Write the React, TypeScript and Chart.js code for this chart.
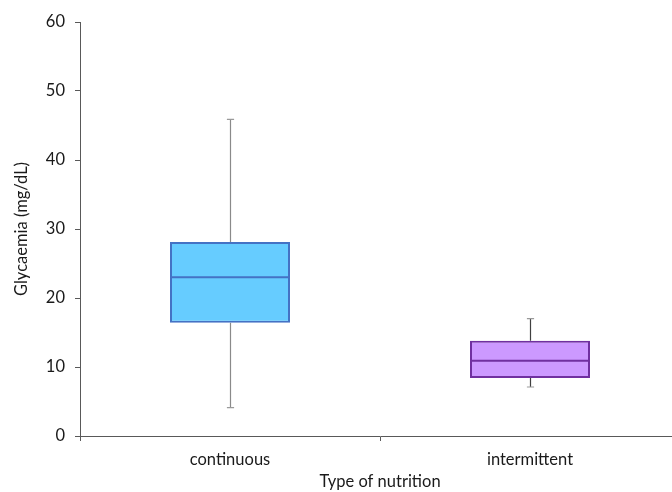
import React, { useEffect, useRef } from "react";
import { Chart, registerables } from "chart.js";

Chart.register(...registerables);

const categories = ["continuous", "intermittent"];
const whiskerLow = [4.1, 7.1];
const q1 = [16.4, 8.4];
const median = [23.0, 10.9];
const q3 = [28.1, 13.8];
const whiskerHigh = [45.9, 17.0];

const fillColors = ["#66CCFF", "#CC99FF"];
const borderColors = ["#4472C4", "#7030A0"];
const whiskerColors = ["#8a8a8a", "#404040"];

const FONT = "Lato, 'Open Sans', sans-serif";
const FS = 16.5;

const boxPlugin = {
  id: "boxExtras",
  beforeDatasetsDraw(chart: any) {
    const { ctx, scales } = chart;
    const xs = scales.x;
    const ys = scales.y;
    const catW = xs.width / categories.length;
    const capHalf = catW * 0.012;
    ctx.save();
    categories.forEach((_, i) => {
      const x = Math.round(xs.getPixelForValue(i)) + 0.5;
      const yLo = ys.getPixelForValue(whiskerLow[i]);
      const yHi = ys.getPixelForValue(whiskerHigh[i]);
      const yQ1 = ys.getPixelForValue(q1[i]);
      const yQ3 = ys.getPixelForValue(q3[i]);
      ctx.strokeStyle = whiskerColors[i];
      ctx.lineWidth = 1.2;
      ctx.beginPath();
      ctx.moveTo(x, yHi);
      ctx.lineTo(x, yQ3);
      ctx.moveTo(x, yQ1);
      ctx.lineTo(x, yLo);
      ctx.stroke();
      ctx.strokeStyle = "#9a9a9a";
      ctx.beginPath();
      ctx.moveTo(x - capHalf, yHi);
      ctx.lineTo(x + capHalf, yHi);
      ctx.moveTo(x - capHalf, yLo);
      ctx.lineTo(x + capHalf, yLo);
      ctx.stroke();
    });
    ctx.restore();
  },
  afterDatasetsDraw(chart: any) {
    const { ctx, scales } = chart;
    const xs = scales.x;
    const ys = scales.y;
    const meta = chart.getDatasetMeta(0);
    ctx.save();
    categories.forEach((_, i) => {
      const bar = meta.data[i] as any;
      const half = bar.width / 2;
      const x = xs.getPixelForValue(i);
      const y = ys.getPixelForValue(median[i]);
      ctx.strokeStyle = borderColors[i];
      ctx.lineWidth = 2;
      ctx.beginPath();
      ctx.moveTo(x - half, y);
      ctx.lineTo(x + half, y);
      ctx.stroke();
    });
    ctx.restore();
  },
};

export default function App() {
  const ref = useRef<HTMLCanvasElement>(null);
  useEffect(() => {
    if (!ref.current) return;
    const chart = new Chart(ref.current, {
      type: "bar",
      data: {
        labels: categories,
        datasets: [
          {
            data: categories.map((_, i) => [q1[i], q3[i]]) as any,
            backgroundColor: fillColors,
            borderColor: borderColors,
            borderWidth: 2,
            borderSkipped: false,
            categoryPercentage: 1,
            barPercentage: 0.4,
          },
        ],
      },
      options: {
        animation: false,
        responsive: false,
        maintainAspectRatio: false,
        layout: { padding: { top: 22, left: 0, right: 0, bottom: 0 } },
        plugins: { legend: { display: false }, tooltip: { enabled: false } },
        scales: {
          x: {
            offset: true,
            grid: {
              offset: true,
              drawOnChartArea: false,
              drawTicks: true,
              tickLength: 5,
              color: "#595959",
            },
            border: { color: "#595959", width: 1 },
            ticks: { color: "#1a1a1a", font: { family: FONT, size: FS }, padding: 9, maxRotation: 0 },
            title: {
              display: true,
              text: "Type of nutrition",
              color: "#1a1a1a",
              font: { family: FONT, size: FS },
              padding: { top: 0, bottom: 0 },
            },
            afterFit: (s: any) => {
              s.height = 56;
            },
          },
          y: {
            min: 0,
            max: 60,
            ticks: { stepSize: 10, color: "#1a1a1a", font: { family: FONT, size: FS }, padding: 10 },
            grid: { drawOnChartArea: false, drawTicks: true, tickLength: 5, color: "#595959" },
            border: { color: "#595959", width: 1 },
            title: {
              display: true,
              text: "Glycaemia (mg/dL)",
              color: "#1a1a1a",
              font: { family: FONT, size: FS },
              padding: { top: 12, bottom: 0 },
            },
            afterFit: (s: any) => {
              s.width = 80;
            },
          },
        },
      },
      plugins: [boxPlugin],
    });
    return () => chart.destroy();
  }, []);
  return (
    <div style={{ position: "fixed", left: 0, top: 0, width: 680, height: 492 }}>
      <canvas ref={ref} width={680} height={492} style={{ display: "block" }} />
    </div>
  );
}
